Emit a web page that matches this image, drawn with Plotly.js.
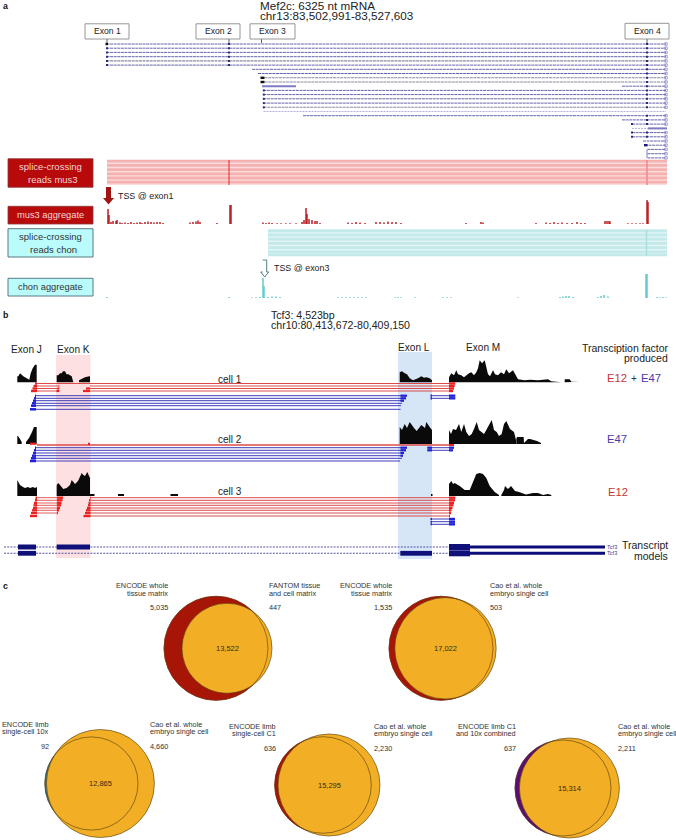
<!DOCTYPE html>
<html><head><meta charset="utf-8">
<script src="https://cdn.plot.ly/plotly-3.0.1.min.js"></script>
<style>html,body{margin:0;padding:0;background:#fff}#g{width:676px;height:840px}</style>
</head><body><div id="g"></div>
<script>
// ---------- panel a: transcript rows ----------
const rowY = [44,48.2,52.4,56.7,60.9,65.1,69.3,73.5,77.8,82,86.2,90.4,94.6,98.8,103.1,107.3,111.5,115.7,119.9,124.1,128.4,132.6,136.8,141,145.2,149.4,153.7,157.9];
const rowStart = [106.5,106.5,106.5,106.5,106.5,106.5,252,258,261,261,622,263.5,263.5,263.5,263.5,263.5,263.5,303,622,632,632,632,632,643,645,647.5,647.5,647.5];
const rowEnd = 666;
const exon2Rows = [0,1,2,3,4,5];
const exon1Rows = [1,2,3,4,5];
const exon3Rows = [11,12,13,14,15];
const exon4Rows = [0,1,2,3,4,5,6,7,8,9,10,11,12,13,14,15,17,18,19,21,22];
const leadDotRows = [19,21,22];
const exonTickX = [107,229,261.5,647];
const exonNames = ['Exon 1','Exon 2','Exon 3','Exon 4'];
const exonBoxL = [85,196,250,625];
const exonBoxR = [129,240,295,669];
// ---------- panel a: splice-crossing bands ----------
const musBandY = [161.2,165.4,169.6,173.8,178,182.2];
const chonBandY = [230.8,235,239.2,243.4,247.6,251.8,254.8];
// ---------- panel a: aggregate tracks ----------
const musX = [108,109,111,113,116,117,120,122,125,128,131,134,137,140,142,145,148,151,154,157,160,163,190,193,196,198,200,217,230,231,263,266,269,272,277,281,286,290,296,302,304,306,307,309,312,315,317,320,348,352,356,360,365,376,380,384,388,392,396,401,466,481,483,536,546,550,554,558,562,567,572,577,581,585,605,607,609,610,628,632,636,640,643,647,648];
const musH = [15,9,2,3,3,4,1.5,1,1.5,1,2,1,1.5,2,1,2,2.5,2,1.5,2,2,1,1.5,2,2.5,3.5,2,1,19,19,1.5,1,1.5,1,.8,.8,.8,.8,.8,2,4,16,10,5,4,3,3,1,1.5,1,2,1.5,1,2,2,1.5,2.5,2,2,1,1,2,1.5,1,1.5,1,2,1,1.5,1,1,2,1,1,3,3,3,2.5,.7,.7,.7,.7,.7,24,22];
const chonX = [107,229,252,256,260,263,264,268,272,276,280,338,342,346,350,354,358,362,366,395,398,401,415,443,447,451,518,560,563,566,569,573,598,601,604,608,646,647,657,660,663,666];
const chonH = [1,1,.7,.7,1,20,12,1,1.5,1.5,1,.7,1,.8,1,.8,1,.8,.7,.8,1,.8,.8,.7,.7,.7,.8,1,1.5,2,2,1,1,2,3,1.5,24,24,1,.7,1,.7];
const arrowRedX = [106,111,111,114,108.5,103,106];
const arrowRedY = [187,187,198,198,204.5,198,198];
const arrowChonX = [262.7,266.7,266.7,268.7,264.7,260.7,262.7];
const arrowChonY = [260,260,272,272,277,272,272];
// ---------- panel b: coverage ----------
const c1JX=[17.3,18.3,20,23.3,26.7,29.3,30.7,32.7,35,36.7], c1JH=[6,6,9,6,4,2.5,9,14,17.5,17.5];
const c1K1X=[56.7,58.3,60,61.7,63,65,66.5,68.3,71.7,73.3], c1K1H=[7,7,9,9,11,11,8,8,6,.7];
const c1K2X=[79,83.3,85,89.3,90], c1K2H=[2,4,5,6,6];
const c1LX=[399.7,402,404.7,407,409.7,413,418,421.3,424,426.3,429.7,432], c1LH=[10,11,9,8,4,2,4,6,4.5,5,4,2];
const c1MX=[449,451.3,454,456.3,458,461.3,464,466.3,469,471.3,474,476.3,478,479.7,482,484.7,488,490,493,495,498,501,504,506.3,509,513,515,518,524.7,530,538,544,548,551.3,561.3], c1MH=[5,9,7,12,8,7,5,7,9,10,7,10,14,22,19,22,8,6,12,8,7,10,8,13,9,12,8,3,2,2.5,2,3,3,1,.5];
const c1M2X=[564.7,566,569.7,571.3,579.7], c1M2H=[3,3,3,.6,.6];
const c2J1X=[17.3,18,20,21.7], c2J1H=[8,8,5,2];
const c2J2X=[26,29,32,34,36.7], c2J2H=[2,6,12,17,17];
const c2LX=[399.7,402,404.7,407,409.7,412,414,416.7,418,421.3,425,426.3,429.7,432], c2LH=[17,14,20,16,22,18,16,13,15,19,16,22,17,14];
const c2MX=[449,451,453,456,459,461.3,464,466.3,469,471.7,474,476.7,479,481.7,484,486.3,490,491.7,494,496.7,499,501.7,504,506.3,510,514,516], c2MH=[14,10,15,14,20,12,20,12,8,10,15,22,14,12,10,14,20,24,14,12,8,10,20,23,15,12,4];
const c2M2X=[516.3,517,523.7,524], c2M2H=[5,7,7,1];
const c2M3X=[524,528,530,537,541], c2M3H=[1,5,5,3,1];
const c3JX=[17.3,18.3,20,23,25,28,30,33,35,37], c3JH=[16,14,11,9,8,9,8,9,8,9];
const c3KX=[56.7,58.3,60,63.3,66.7,70,71.7,75,78,81.7,83.3,85,87.3,90], c3KH=[11,13,11,7,8,11,16,12,15,23,21,20,24,18];
const c3bitsX=[90,118,170.5,431], c3bitsW=[4.5,6,7.5,1.5], c3bitsH=[2,2,2,2];
const c3MX=[449,451.3,453,454.7,459.7,464.7,469.7,473,476.3,479.7,483,486.3,489.7,494.7,499], c3MH=[12,15,12,13,10,6,6,15,22,23,22,18,10,4,1];
const c3M2X=[501.3,504,505,508,511,515,519,526,533,538,543,548,551.3], c3M2H=[1,6,10,7,10,5,4,1.5,3,3,1,2,1];
const baseCell = [382.3,444,496];
// ---------- panel b: reads ----------
const c1Red = [383.5,386,388.5,391];
const c1RedJ = [35,33.5,32.5,31];
const c1RedK = [59,58.5,57.5,56.5];
const c1RedKR = [89.5,88,86,83];
const c1RedM = [455.3,454.7,454,453];
const c1Blue = [395.7,398.3,400.7,403.3,405.7,409.3];
const c1BlueJ = [35,34,33,32,31,30];
const c1BlueL = [406,405,403,402,401,400.6];
const c1Short = [395.7,398.3];
const c2Red = [445];
const c2Blue = [447.7,450.3,453,455.7,458.3,461];
const c2BlueJ = [35,34,33,32,31,30];
const c2BlueL = [407,406,404,403,402,400];
const c2Short = [447.7,450.3];
const c3Red = [497.7,500.3,503,505.3,508,510.3,513,516];
const c3RedJ = [35.5,35,34,33.5,33,32,31,30];
const c3RedK = [63,62.5,61.5,61,60,59,58,57];
const c3RedKR = [90,89,88.5,88,87,86,85,83.5];
const c3RedM = [455.3,455,454,453.5,452.5,451.5,451,450];
const c3Short = [519,521.7,524.3];
const modelY = [547,553.3];
const modelBlocksA = [[18,36],[56.7,90]];
const modelBlocksB = [[18,36],[400.3,432]];
// ---------- panel c: venns (left circle, right circle) ----------
const vennCx1 = [216,441,91.4,323,563];
const vennCx2 = [227,445.5,100.4,329,569.4];
const vennCy = [648.3,648.3,783.5,785,788];
const vennR1 = [52,52,46.6,48.3,48];
const vennR2 = [45,50.7,54,51,50];
const vennCol = ['#a61505','#a61505','#3c6f78','#a61505','#5c0f6e'];
const vennL1 = ['ENCODE whole','ENCODE whole','ENCODE limb','ENCODE limb','ENCODE limb C1'];
const vennL2 = ['tissue matrix','tissue matrix','single-cell 10x','single-cell C1','and 10x combined'];
const vennR1t = ['FANTOM tissue','Cao et al. whole','Cao et al. whole','Cao et al. whole','Cao et al. whole'];
const vennR2t = ['and cell matrix','embryo single cell','embryo single cell','embryo single cell','embryo single cell'];
const vennLeft = ['5,035','1,535','92','636','637'];
const vennRight = ['447','503','4,660','2,230','2,211'];
const vennMid = ['13,522','17,022','12,865','15,295','15,314'];
const vennLx = [167.7,391.8,49,275.9,516.4];
const vennRx = [269.4,489.7,150.4,373.7,617.7];
const vennTop = [585.7,585.7,724.3,726,726];

// ---------- helpers ----------
const FONT='"Liberation Sans",Arial,sans-serif';
const traces=[], shapes=[], ann=[];
function segs(list,color,width,opacity,dash){const x=[],y=[];list.forEach(s=>{x.push(s[0],s[2],null);y.push(s[1],s[1],null)});
  traces.push({type:'scatter',mode:'lines',x,y,line:{color,width,dash:dash||'solid'},opacity:opacity==null?1:opacity,hoverinfo:'skip',showlegend:false});}
function vsegs(list,color,width,opacity){const x=[],y=[];list.forEach(s=>{x.push(s[0],s[0],null);y.push(s[1],s[2],null)});
  traces.push({type:'scatter',mode:'lines',x,y,line:{color,width},opacity:opacity==null?1:opacity,hoverinfo:'skip',showlegend:false});}
function marks(x,y,color,size,symbol){traces.push({type:'scatter',mode:'markers',x,y,marker:{color,size,symbol:symbol||'square',line:{width:symbol&&symbol.includes('open')?.7:0,color}},hoverinfo:'skip',showlegend:false});}
function poly(x,y,fill,lineColor,lw){traces.push({type:'scatter',mode:'lines',x,y,fill:'toself',fillcolor:fill,line:{color:lineColor||fill,width:lw||0},hoverinfo:'skip',showlegend:false});}
function cov(blobs,base,color){const x=[],y=[];blobs.forEach(b=>{b[0].forEach((v,i)=>{x.push(v);y.push(base-b[1][i])});x.push(b[0][b[0].length-1],b[0][0],null);y.push(base,base,null)});poly(x,y,color)}
function bars(xs,hs,base,color,w){traces.push({type:'bar',x:xs,y:hs.map(h=>-h),base:xs.map(()=>base),width:w,marker:{color,line:{width:0}},hoverinfo:'skip',showlegend:false});}
function text(x,y,t,size,color,anchor,bold){ann.push({x,y,xref:'x',yref:'y',text:bold?'<b>'+t+'</b>':t,showarrow:false,xanchor:anchor||'left',yanchor:'middle',font:{family:FONT,size,color:color||'#222'},borderpad:0,borderwidth:0});}
function rect(x0,y0,x1,y1,fill,line,lw,layer){shapes.push({type:'rect',xref:'x',yref:'y',x0,y0,x1,y1,fillcolor:fill,line:{color:line||fill,width:lw==null?0:lw},layer:layer||'above'});}
function circ(cx,cy,r,fill,line,lw){shapes.push({type:'circle',xref:'x',yref:'y',x0:cx-r,x1:cx+r,y0:cy-r,y1:cy+r,fillcolor:fill,line:{color:line,width:lw},layer:'above'});}

// ---------- panel a drawing ----------
const NAVY='#6464ac';
segs(rowY.map((y,i)=>[rowStart[i],y,rowEnd]).filter((s,i)=>![4,8,9,15,16,20].includes(i)),NAVY,1,1,'3px,.6px');
segs([4,8,9,15].map(i=>[rowStart[i],rowY[i],rowEnd]),'#8a8aa0',1.1,1,'3px,.6px');
segs([16,20].map(i=>[rowStart[i],rowY[i],rowEnd]),'#b0b0dc',1,1,'2px,1px');
segs([[262,rowY[10],296],[648,rowY[20],667]],'#7c7cc4',2);
segs([[105.5,rowY[0],108],[260.5,rowY[8],264.5],[260.5,rowY[9],264.5]],'#111',2.4);
segs([[644,rowY[24],647.5]],'#1a1a80',2.4);
marks(exon2Rows.map(()=>229),exon2Rows.map(i=>rowY[i]),'#2a2a78',2);
marks(exon1Rows.map(()=>107),exon1Rows.map(i=>rowY[i]),'#2a2a78',2);
marks(exon3Rows.map(()=>263.8),exon3Rows.map(i=>rowY[i]),'#2a2a78',2);
marks(exon4Rows.map(()=>647),exon4Rows.map(i=>rowY[i]),'#2a2a78',2);
marks(leadDotRows.map(()=>632),leadDotRows.map(i=>rowY[i]),'#2a2a78',2);
marks(rowY.filter((y,i)=>i!=20&&i!=16).map(()=>666),rowY.filter((y,i)=>i!=20&&i!=16),'#7a7ac8',2.5,'square-open');
vsegs(exonTickX.map(x=>[x,39,43]),'#333',.8);
vsegs([[647,rowY[25],rowY[27]]],'#5a5ab0',.8);
exonNames.forEach((n,i)=>{rect(exonBoxL[i],i==3?23.3:23.8,exonBoxR[i],39,'#fff','#8a8a8a',.9);text((exonBoxL[i]+exonBoxR[i])/2,31.2,n,8.6,'#222','center');});
text(3,5.5,'a',8.8,'#111','left',true);
text(259.5,5.3,'Mef2c: 6325 nt mRNA',11.7);
text(259.5,15.5,'chr13:83,502,991-83,527,603',11.7);

rect(107,160,667,185,'#fbdcdc',null,0,'below');
segs(musBandY.map(y=>[107,y,667]),'#f5b0b0',2.8);
vsegs([[229,160,185]],'#d83030',1);
vsegs([[647,160,185]],'#f08a98',1.6);
rect(268,229.3,667,256,'#e2f4f4',null,0,'below');
segs(chonBandY.map(y=>[268,y,667]),'#c4e9e9',2.8);
vsegs([[646.5,229.5,256]],'#a9dede',1.4);
rect(8,158.7,93,187.3,'#b80a0a','#8c3838',.8);
text(50,166.8,'splice-crossing',9.5,'#f4d4d4','center');
text(52.5,179.5,'reads mus3',9.5,'#f4d4d4','center');
rect(8,206.3,93,224,'#b80a0a','#8c3838',.8);
text(50,214.8,'mus3 aggregate',9.3,'#f4d4d4','center');
rect(8,228.7,93,257,'#bafcfc','#4d6c78',.9);
text(50,236.8,'splice-crossing',9.5,'#333','center');
text(53,249.5,'reads chon',9.5,'#333','center');
rect(8,278.3,93,296,'#bafcfc','#4d6c78',.9);
text(50,286.8,'chon aggregate',9.3,'#333','center');
poly(arrowRedX,arrowRedY,'#a01414');
poly(arrowChonX,arrowChonY,'#ffffff','#3f6f75',.9);
text(118,195.8,'TSS @ exon1',8.9);
text(274,267.5,'TSS @ exon3',8.9);
bars(musX,musH,224,'#b40d14',1.4);
bars(chonX,chonH,298,'#58c6c8',1.4);

// ---------- panel b drawing ----------
rect(56,355,90.5,558,'#fde0e1',null,0,'below');
rect(398,352,432,559,'#d6e6f7',null,0,'below');
text(3,315,'b',8.8,'#111','left',true);
text(271,315.3,'Tcf3: 4,523bp',10.6);
text(271,325.3,'chr10:80,413,672-80,409,150',10.6);
text(10.5,349.3,'Exon J',10.1); text(57,349.3,'Exon K',10.1);
text(398,347.3,'Exon L',10.1); text(466,347.3,'Exon M',10.1);
text(668,347.5,'Transciption factor',10.5,'#222','right');
text(668,358,'produced',10.5,'#222','right');
text(218.3,379,'cell 1',10); text(218.3,439.3,'cell 2',10); text(218.3,491.6,'cell 3',10);
text(607,378,'E12',11.3,'#c53636');
text(634,378,'+',10,'#333','center');
text(641,378,'E47',11.3,'#4a38a8');
text(607,439,'E47',11.3,'#4a38a8');
text(608,491.5,'E12',11.3,'#c53636');

cov([[c1JX,c1JH],[c1K1X,c1K1H],[c1K2X,c1K2H],[c1LX,c1LH],[c1MX,c1MH],[c1M2X,c1M2H]],baseCell[0],'#0a0a0a');
cov([[c2J1X,c2J1H],[c2J2X,c2J2H],[c2LX,c2LH],[c2MX,c2MH],[c2M2X,c2M2H],[c2M3X,c2M3H]],baseCell[1],'#0a0a0a');
cov([[c3JX,c3JH],[c3KX,c3KH],[c3MX,c3MH],[c3M2X,c3M2H]],baseCell[2],'#0a0a0a');
bars(c3bitsX.map((x,i)=>x+c3bitsW[i]/2),c3bitsH,baseCell[2],'#0a0a0a',c3bitsW);

const RED='#dc4a4a', BLUE='#3c3cbc', REDH='#ea2222', BLUEH='#2020d8';
// cell 1
segs(c1Red.map((y,i)=>[i==0?37:90,y,449]),RED,1);
segs(c1Red.slice(1).map(y=>[37,y,58]),RED,1);
segs(c1Blue.map((y,i)=>[36,y,c1BlueL[i]]),BLUE,1);
segs(c1Short.map(y=>[431,y,449]),BLUE,1);
segs(c1Red.map((y,i)=>[c1RedJ[i],y,37]),REDH,2.4);
segs(c1Red.slice(1).map((y,i)=>[c1RedK[i+1],y,59.3]),REDH,2.2);
segs(c1Red.slice(2).map((y,i)=>[c1RedKR[i+2],y,90]),REDH,2.2);
segs(c1Red.map((y,i)=>[449,y,c1RedM[i]]),REDH,2.4);
segs(c1Blue.map((y,i)=>[c1BlueJ[i],y,36]),BLUEH,2.5);
segs(c1Blue.slice(0,3).map((y,i)=>[400.5,y,c1BlueL[i]+1]),BLUEH,2.2);
segs(c1Short.map(y=>[430.5,y,432]),BLUEH,2.2);
segs(c1Short.map(y=>[449,y,455.3]),BLUEH,2.4);
// cell 2
segs(c2Red.map(y=>[37,y,449]),RED,1.4);
segs([[30,443.7,36.5]],REDH,2.2);
segs([[88,443.8,90]],REDH,2.2);
segs(c2Red.map(y=>[449,y,454]),REDH,2);
segs(c2Blue.map((y,i)=>[36,y,c2BlueL[i]]),BLUE,1);
segs(c2Short.map(y=>[427.5,y,449]),BLUE,1);
segs(c2Blue.map((y,i)=>[c2BlueJ[i],y,36]),BLUEH,2.5);
segs(c2Blue.slice(0,4).map((y,i)=>[400.5,y,c2BlueL[i]]),BLUEH,2.2);
segs(c2Short.map(y=>[427.3,y,432]),BLUEH,2.2);
segs(c2Short.map((y,i)=>[449,y,[454,453][i]]),BLUEH,2.3);
// cell 3
segs(c3Red.map(y=>[90,y,449]),RED,1);
segs(c3Red.slice(0,7).map(y=>[37,y,57]),RED,.9);
segs(c3Red.map((y,i)=>[c3RedJ[i],y,37]),REDH,2.4);
segs(c3Red.map((y,i)=>[57,y,c3RedK[i]]).slice(0,7),REDH,2.4);
segs(c3Red.map((y,i)=>[c3RedKR[i],y,90.5]),REDH,2.4);
segs(c3Red.map((y,i)=>[449,y,c3RedM[i]]),REDH,2.4);
segs(c3Short.map(y=>[431,y,449]),BLUE,1);
segs(c3Short.map(y=>[430.5,y,432]),BLUEH,2);
segs(c3Short.map(y=>[449,y,455]),BLUEH,2.4);
// models
segs(modelY.map(y=>[4,y,449]),'#5555a5',1.1,1,'2px,1.2px');
segs(modelY.map(y=>[470,y,605]),'#0c0c7a',3);
modelBlocksA.forEach(b=>rect(b[0],544.5,b[1],549.5,'#10107a'));
modelBlocksB.forEach(b=>rect(b[0],550.9,b[1],555.7,'#10107a'));
rect(449,544,470,550,'#10107a'); rect(449,550.3,470,556.3,'#10107a');
text(606.5,547,'Tcf3',5.6,'#3a3a98'); text(606.5,553.3,'Tcf3',5.6,'#3a3a98');
text(668,545,'Transcript',10.5,'#222','right');
text(668,555.5,'models',10.5,'#222','right');

// ---------- panel c drawing ----------
text(3,586,'c',8.8,'#111','left',true);
vennCx1.forEach((cx,i)=>{
  const cy=vennCy[i], Y='#f2ae24', L='#4f3c12';
  circ(cx,cy,vennR1[i],vennCol[i],vennCol[i],.6);
  circ(vennCx2[i],cy,vennR2[i],Y,L,.6);
  circ(cx,cy,vennR1[i],'rgba(0,0,0,0)',i<2?'#5e3a12':'#4f3c12',.6);
  const t=vennTop[i];
  text(vennLx[i],t,vennL1[i],7.3,'#333','right');
  text(vennLx[i],t+7.4,vennL2[i],7.3,'#333','right');
  text(vennLx[i],t+22,vennLeft[i],7.3,'#333','right');
  text(vennRx[i],t,vennR1t[i],7.3,'#333');
  text(vennRx[i],t+7.4,vennR2t[i],7.3,'#333');
  text(vennRx[i],t+22,vennRight[i],7.3,'#333');
  text((vennCx2[i]),cy,vennMid[i],7.5,'#3a2a10','center');
});

Plotly.newPlot('g',traces,{
  width:676,height:840,margin:{l:0,r:0,t:0,b:0,pad:0},
  paper_bgcolor:'#fff',plot_bgcolor:'rgba(0,0,0,0)',showlegend:false,barmode:'overlay',
  xaxis:{range:[0,676],visible:false,fixedrange:true},
  yaxis:{range:[840,0],visible:false,fixedrange:true},
  shapes,annotations:ann,font:{family:FONT}
},{staticPlot:true,displayModeBar:false});
</script></body></html>
